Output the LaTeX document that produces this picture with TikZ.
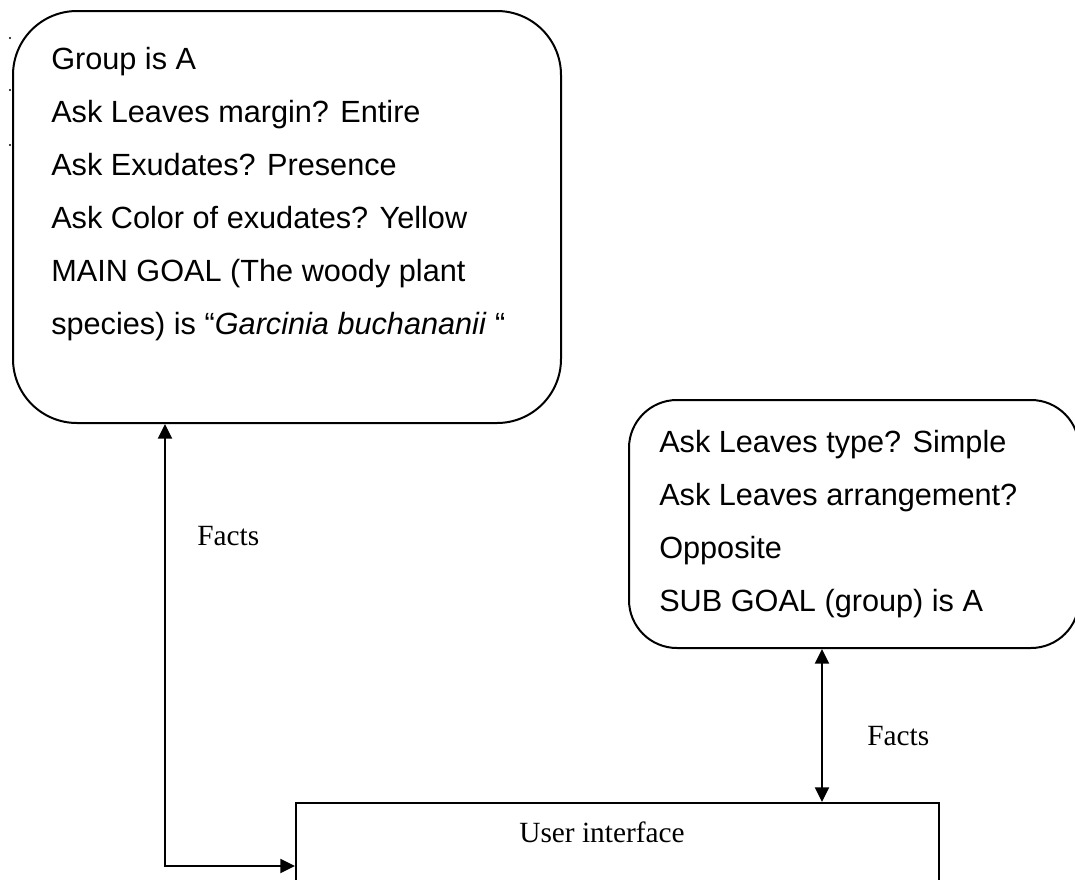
\documentclass[tikz,border=0pt]{standalone}
\usepackage{fontspec}
\setmainfont{Liberation Serif}
\newfontfamily\boxfont{Liberation Sans}
\usetikzlibrary{positioning,arrows.meta,calc}
\tikzset{
  goalbox/.style={rectangle,rounded corners=48pt,draw=black,line width=1.5pt,anchor=north west,inner sep=0pt},
  uibox/.style={rectangle,draw=black,line width=1.5pt,anchor=north west,inner sep=0pt},
  boxtext/.style={anchor=north west,inner sep=0pt,align=left,font=\boxfont\fontsize{23}{39.75}\selectfont},
  factlabel/.style={anchor=base west,inner sep=0pt,font=\fontsize{22}{26}\selectfont},
  biedge/.style={{Triangle[length=11pt,width=10.5pt]}-{Triangle[length=11pt,width=10.5pt]},line width=1.5pt}
}

\begin{document}
\begin{tikzpicture}[x=0.75pt,y=-0.75pt]
  \useasboundingbox (0,0) rectangle (1075,879);
  \fill (10,38) circle (0.9pt);
  \fill (10,90) circle (0.9pt);
  \fill (10,145) circle (0.9pt);
  \node[goalbox,minimum width=411pt,minimum height=309pt] (main) at (12,10) {};
  \node[boxtext] (maintext) at (51,47) {Group is A\\Ask Leaves margin? Entire\\Ask Exudates? Presence\\Ask Color of exudates? Yellow\\MAIN GOAL (The woody plant\\species) is “\textit{Garcinia buchananii} “};
  \node[goalbox,rounded corners=36pt,minimum width=337.5pt,minimum height=186pt] (sub) at (628,399) {};
  \node[boxtext] (subtext) at (659,430) {Ask Leaves type? Simple\\Ask Leaves arrangement?\\Opposite\\SUB GOAL (group) is A};
  \node[uibox,minimum width=482.25pt,minimum height=112.5pt] (ui) at (295,802) {};
  \node[anchor=base,inner sep=0pt,font=\fontsize{22}{26}\selectfont] (uilabel) at (602,842) {User interface};
  \coordinate (lturn) at (165,866);
  \coordinate (rx) at (822,0);
  \draw[biedge] (main.south -| lturn) |- (ui.west |- lturn);
  \draw[biedge] (sub.south -| rx) -- (ui.north -| rx);
  \node[factlabel] (facts1) at (197,545) {Facts};
  \node[factlabel] (facts2) at (867,745) {Facts};
\end{tikzpicture}
\end{document}
